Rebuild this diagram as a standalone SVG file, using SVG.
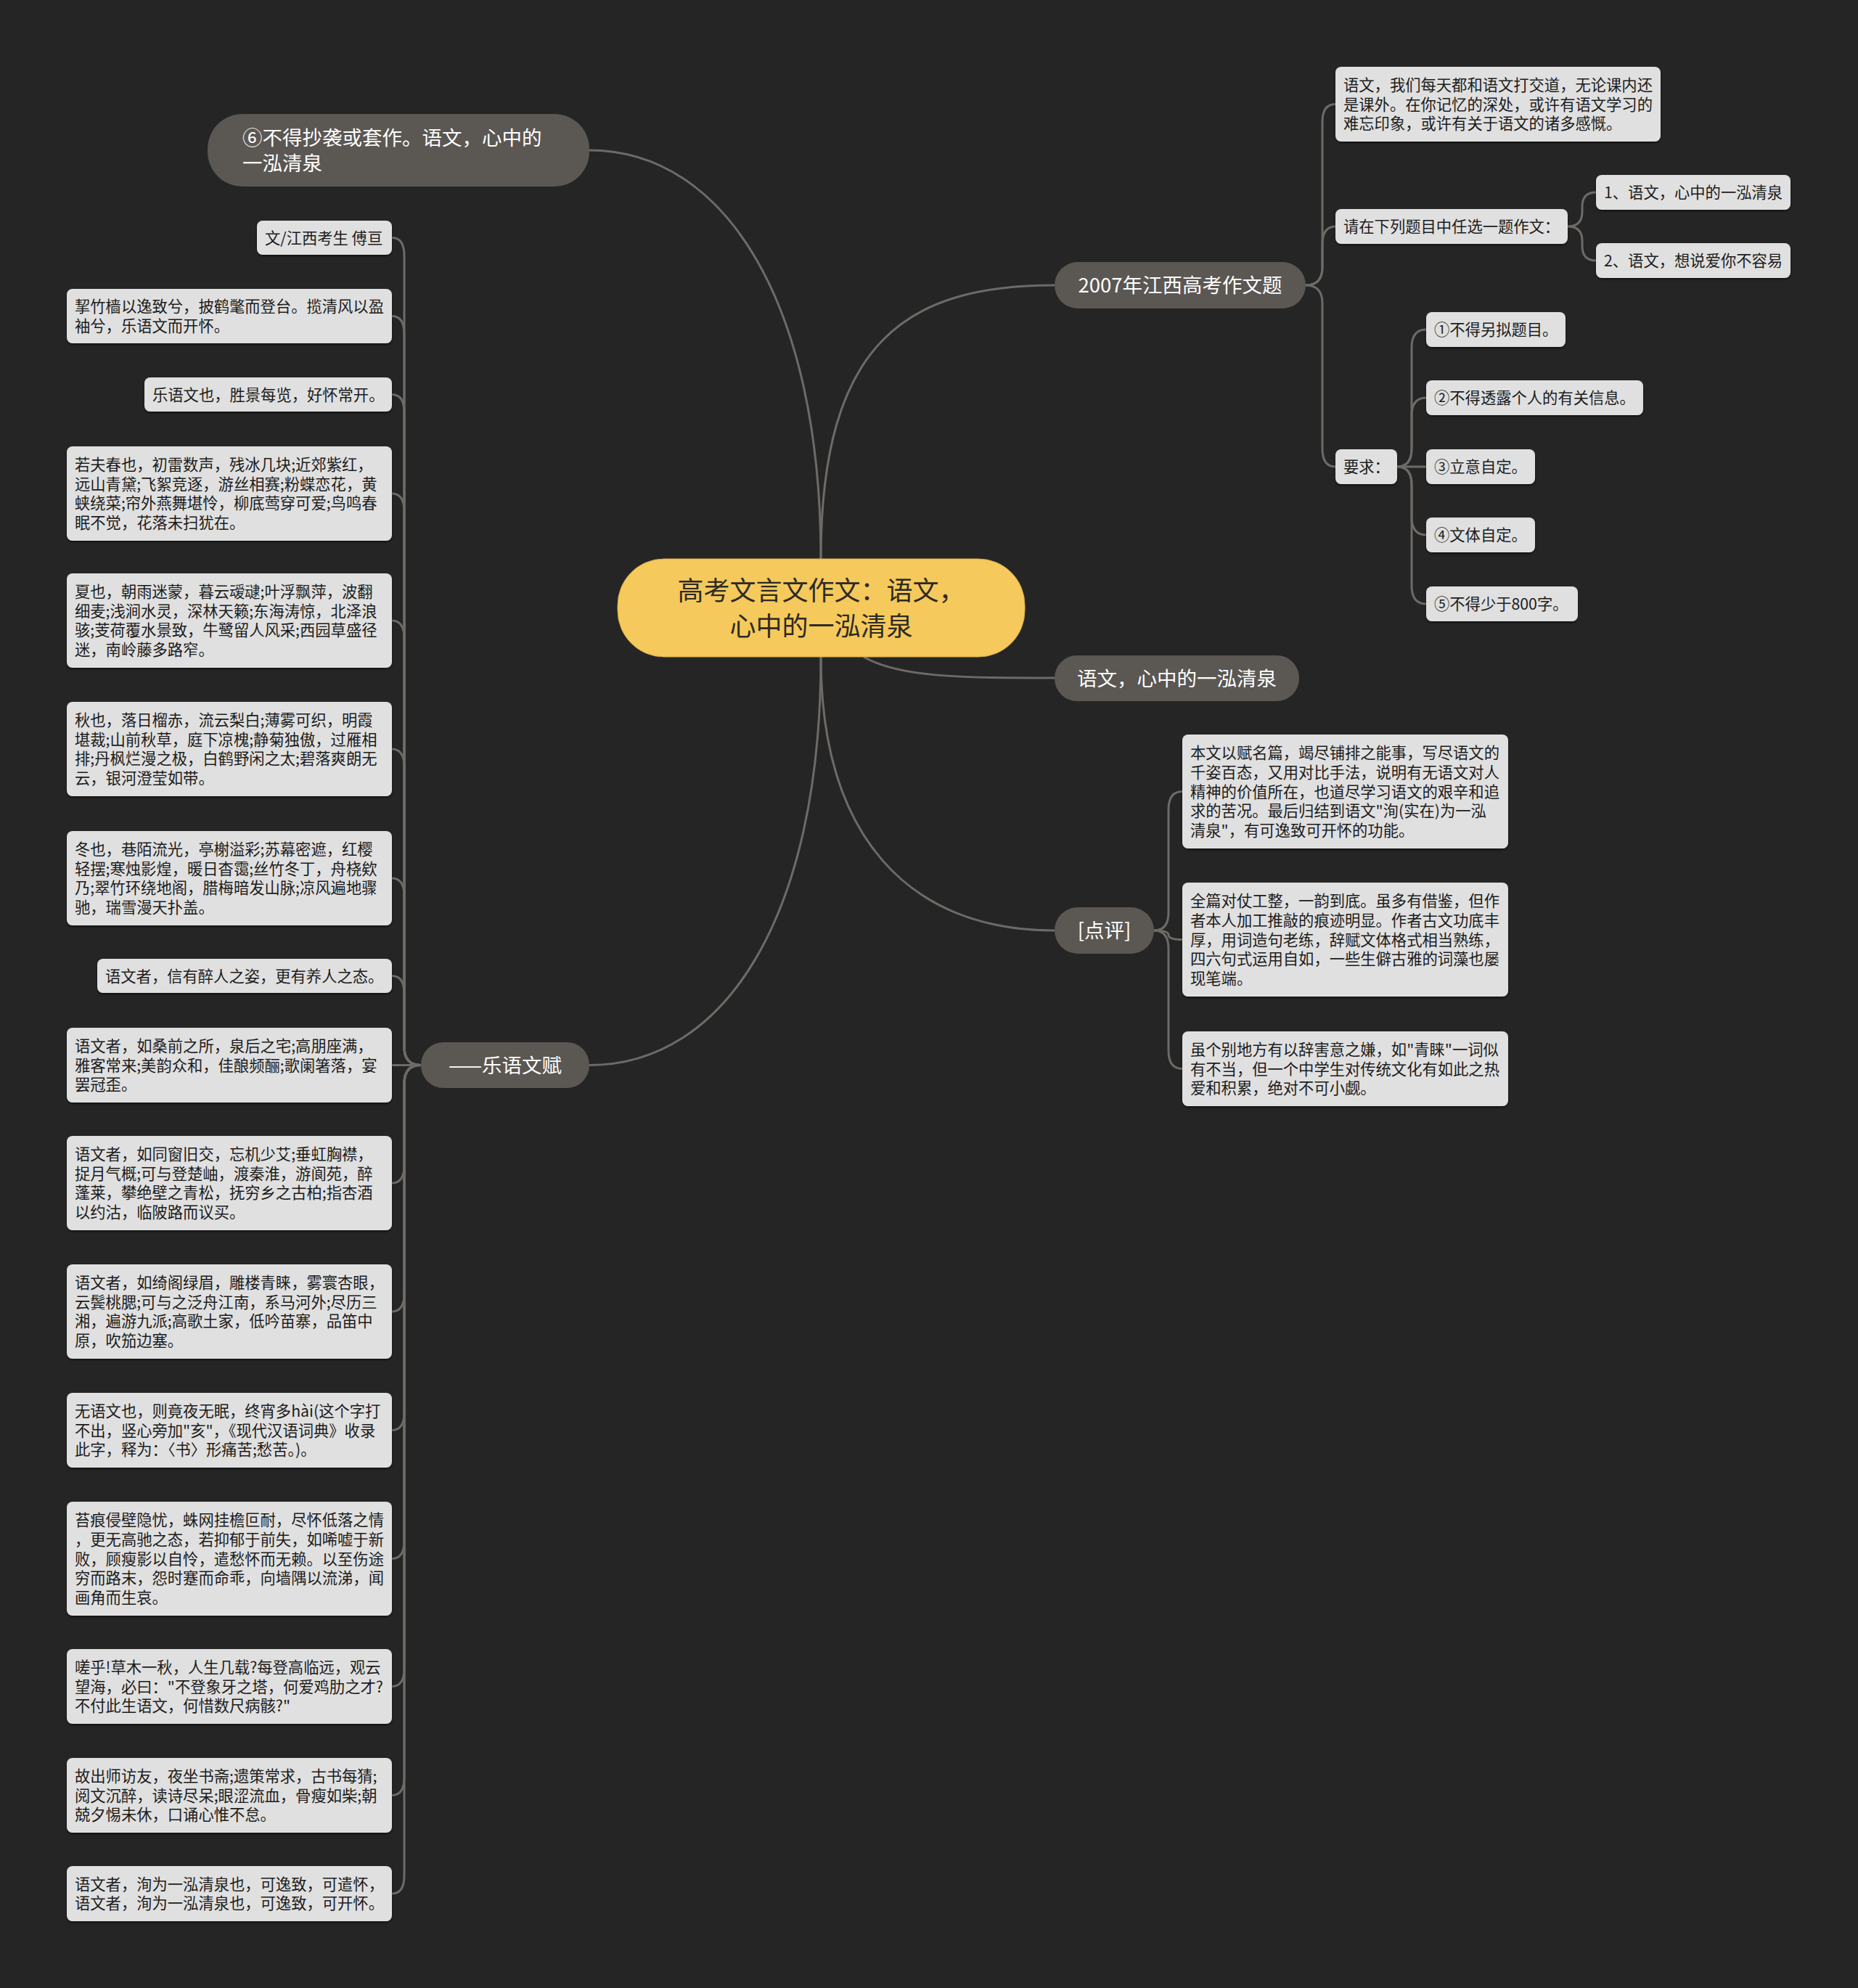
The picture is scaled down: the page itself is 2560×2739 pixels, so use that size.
<svg xmlns="http://www.w3.org/2000/svg" width="2560" height="2739" viewBox="0 0 2560 2739">
<defs>
<style>
text{font-family:"Noto Sans CJK SC","Noto Sans",sans-serif}
.leaf rect{fill:#e0e0e0;filter:url(#sh)}
.leaf text{font-size:21.3px;fill:#1c1c1c}
.branch rect{fill:#5b5753}
.branch text{font-size:27.5px;fill:#ffffff}
.mid{text-anchor:middle}
.conn path{fill:none;stroke:#6e6a66;stroke-width:3}
.root rect{fill:#f5c95c;stroke:#d8ab45;stroke-width:1}
.root text{font-size:36px;fill:#2e2a22;text-anchor:middle}
</style>
<filter id="sh" x="-5%" y="-10%" width="110%" height="130%">
<feDropShadow dx="0" dy="2" stdDeviation="1.5" flood-color="#000" flood-opacity="0.5"/>
</filter>
</defs>
<rect width="2560" height="2739" fill="#252525"/>

<g id="connectors" class="conn">
<path d="M1131,770 C1131,420 1000,207 812,207"/>
<path d="M1131,770 C1131,470 1250,393 1453,393"/>
<path d="M1131,905 C1131,1260 1000,1467.5 812,1467.5"/>
<path d="M1131,905 C1131,1150 1250,1282 1453,1282"/>
<path d="M1190,905 C1240,934 1330,934 1453,934"/>

<path d="M1799,393 Q1822,393 1822,368 L1822,168 Q1822,143.5 1840,143.5"/>
<path d="M1799,393 Q1822,393 1822,368 L1822,337 Q1822,312 1840,312"/>
<path d="M1799,393 Q1822,393 1822,418 L1822,618 Q1822,643 1840,643"/>

<path d="M2160,312 Q2180,312 2180,292 L2180,285 Q2180,265 2199,265"/>
<path d="M2160,312 Q2180,312 2180,332 L2180,339 Q2180,359 2199,359"/>

<path d="M1925,643 Q1945,643 1945,618 L1945,479 Q1945,454 1965,454"/>
<path d="M1925,643 Q1945,643 1945,618 L1945,573 Q1945,548 1965,548"/>
<path d="M1925,643 L1965,643"/>
<path d="M1925,643 Q1945,643 1945,668 L1945,712 Q1945,737 1965,737"/>
<path d="M1925,643 Q1945,643 1945,668 L1945,807 Q1945,832 1965,832"/>

<path d="M1590,1282 Q1610,1282 1610,1257 L1610,1115.5 Q1610,1090.5 1629,1090.5"/>
<path d="M1590,1282 Q1610,1282 1610,1288 Q1610,1294.5 1629,1294.5"/>
<path d="M1590,1282 Q1610,1282 1610,1307 L1610,1447.5 Q1610,1472.5 1629,1472.5"/>

<path d="M580,1467.5 Q557,1467.5 557,1442.5 L557,352.5 Q557,327.5 540,327.5"/>
<path d="M580,1467.5 Q557,1467.5 557,1442.5 L557,460.5 Q557,435.5 540,435.5"/>
<path d="M580,1467.5 Q557,1467.5 557,1442.5 L557,568.5 Q557,543.5 540,543.5"/>
<path d="M580,1467.5 Q557,1467.5 557,1442.5 L557,705 Q557,680 540,680"/>
<path d="M580,1467.5 Q557,1467.5 557,1442.5 L557,880 Q557,855 540,855"/>
<path d="M580,1467.5 Q557,1467.5 557,1442.5 L557,1057 Q557,1032 540,1032"/>
<path d="M580,1467.5 Q557,1467.5 557,1442.5 L557,1235 Q557,1210 540,1210"/>
<path d="M580,1467.5 Q557,1467.5 557,1442.5 L557,1369.5 Q557,1344.5 540,1344.5"/>
<path d="M580,1467.5 L540,1467.5"/>
<path d="M580,1467.5 Q557,1467.5 557,1492.5 L557,1605 Q557,1630 540,1630"/>
<path d="M580,1467.5 Q557,1467.5 557,1492.5 L557,1782 Q557,1807 540,1807"/>
<path d="M580,1467.5 Q557,1467.5 557,1492.5 L557,1945.5 Q557,1970.5 540,1970.5"/>
<path d="M580,1467.5 Q557,1467.5 557,1492.5 L557,2122.5 Q557,2147.5 540,2147.5"/>
<path d="M580,1467.5 Q557,1467.5 557,1492.5 L557,2298.5 Q557,2323.5 540,2323.5"/>
<path d="M580,1467.5 Q557,1467.5 557,1492.5 L557,2448.5 Q557,2473.5 540,2473.5"/>
<path d="M580,1467.5 Q557,1467.5 557,1492.5 L557,2584 Q557,2609 540,2609"/>
</g>

<g id="root" class="root">
<rect x="851" y="770" width="561" height="135" rx="64"/>
<text x="1131.5" y="826.7">高考文言文作文：语文，</text>
<text x="1131.5" y="875.7">心中的一泓清泉</text>
</g>

<g id="b-2007" class="branch">
<rect x="1453" y="361" width="346" height="64" rx="32"/>
<text class="mid" x="1626" y="403">2007年江西高考作文题</text>
</g>
<g id="b-yuwen" class="branch">
<rect x="1453" y="903" width="337" height="63" rx="31"/>
<text class="mid" x="1621.5" y="944.5">语文，心中的一泓清泉</text>
</g>
<g id="b-dianping" class="branch">
<rect x="1453" y="1250" width="137" height="64" rx="32"/>
<text class="mid" x="1521.5" y="1292">[点评]</text>
</g>
<g id="b-six" class="branch">
<rect x="286" y="157" width="526" height="100" rx="48"/>
<text x="334" y="200">⑥不得抄袭或套作。语文，心中的</text>
<text x="334" y="235">一泓清泉</text>
</g>
<g id="b-fu" class="branch">
<rect x="580" y="1436" width="232" height="63" rx="31"/>
<text class="mid" x="696" y="1477.5">——乐语文赋</text>
</g>

<g id="r-intro" class="leaf">
<rect x="1840" y="92" width="448" height="103" rx="8"/>
<text x="1851" y="124.8">语文，我们每天都和语文打交道，无论课内还</text>
<text x="1851" y="151.5">是课外。在你记忆的深处，或许有语文学习的</text>
<text x="1851" y="178.2">难忘印象，或许有关于语文的诸多感慨。</text>
</g>
<g id="r-choose" class="leaf">
<rect x="1840" y="288" width="320" height="48" rx="8"/>
<text x="1851" y="320">请在下列题目中任选一题作文：</text>
</g>
<g id="r-t1" class="leaf">
<rect x="2199" y="241" width="268" height="48" rx="8"/>
<text x="2210" y="273">1、语文，心中的一泓清泉</text>
</g>
<g id="r-t2" class="leaf">
<rect x="2199" y="335" width="268" height="48" rx="8"/>
<text x="2210" y="367">2、语文，想说爱你不容易</text>
</g>
<g id="r-req" class="leaf">
<rect x="1840" y="619" width="85" height="48" rx="8"/>
<text x="1851" y="651">要求：</text>
</g>
<g id="r-q1" class="leaf">
<rect x="1965" y="430" width="192" height="48" rx="8"/>
<text x="1976" y="462">①不得另拟题目。</text>
</g>
<g id="r-q2" class="leaf">
<rect x="1965" y="524" width="299" height="48" rx="8"/>
<text x="1976" y="556">②不得透露个人的有关信息。</text>
</g>
<g id="r-q3" class="leaf">
<rect x="1965" y="619" width="150" height="48" rx="8"/>
<text x="1976" y="651">③立意自定。</text>
</g>
<g id="r-q4" class="leaf">
<rect x="1965" y="713" width="150" height="48" rx="8"/>
<text x="1976" y="745">④文体自定。</text>
</g>
<g id="r-q5" class="leaf">
<rect x="1965" y="808" width="209" height="48" rx="8"/>
<text x="1976" y="840">⑤不得少于800字。</text>
</g>

<g id="c1" class="leaf">
<rect x="1629" y="1012" width="449" height="157" rx="8"/>
<text x="1640" y="1045.1">本文以赋名篇，竭尽铺排之能事，写尽语文的</text>
<text x="1640" y="1071.8">千姿百态，又用对比手法，说明有无语文对人</text>
<text x="1640" y="1098.5">精神的价值所在，也道尽学习语文的艰辛和追</text>
<text x="1640" y="1125.2">求的苦况。最后归结到语文"洵(实在)为一泓</text>
<text x="1640" y="1151.9">清泉"，有可逸致可开怀的功能。</text>
</g>
<g id="c2" class="leaf">
<rect x="1629" y="1216" width="449" height="157" rx="8"/>
<text x="1640" y="1249.1">全篇对仗工整，一韵到底。虽多有借鉴，但作</text>
<text x="1640" y="1275.8">者本人加工推敲的痕迹明显。作者古文功底丰</text>
<text x="1640" y="1302.5">厚，用词造句老练，辞赋文体格式相当熟练，</text>
<text x="1640" y="1329.2">四六句式运用自如，一些生僻古雅的词藻也屡</text>
<text x="1640" y="1355.9">现笔端。</text>
</g>
<g id="c3" class="leaf">
<rect x="1629" y="1421" width="449" height="103" rx="8"/>
<text x="1640" y="1453.8">虽个别地方有以辞害意之嫌，如"青睐"一词似</text>
<text x="1640" y="1480.5">有不当，但一个中学生对传统文化有如此之热</text>
<text x="1640" y="1507.2">爱和积累，绝对不可小觑。</text>
</g>

<g id="l1" class="leaf">
<rect x="354" y="304" width="186" height="47" rx="8"/>
<text x="365" y="335.5">文/江西考生 傅亘</text>
</g>
<g id="l2" class="leaf">
<rect x="92" y="398" width="448" height="75" rx="8"/>
<text x="103" y="430.2">挈竹樯以逸致兮，披鹤氅而登台。揽清风以盈</text>
<text x="103" y="456.9">袖兮，乐语文而开怀。</text>
</g>
<g id="l3" class="leaf">
<rect x="199" y="520" width="341" height="47" rx="8"/>
<text x="210" y="551.5">乐语文也，胜景每览，好怀常开。</text>
</g>
<g id="l4" class="leaf">
<rect x="92" y="615" width="448" height="130" rx="8"/>
<text x="103" y="648">若夫春也，初雷数声，残冰几块;近郊紫红，</text>
<text x="103" y="674.7">远山青黛;飞絮竞逐，游丝相赛;粉蝶恋花，黄</text>
<text x="103" y="701.4">蛱绕菜;帘外燕舞堪怜，柳底莺穿可爱;鸟鸣春</text>
<text x="103" y="728.1">眠不觉，花落未扫犹在。</text>
</g>
<g id="l5" class="leaf">
<rect x="92" y="790" width="448" height="130" rx="8"/>
<text x="103" y="823">夏也，朝雨迷蒙，暮云叆叇;叶浮飘萍，波翻</text>
<text x="103" y="849.7">细麦;浅涧水灵，深林天籁;东海涛惊，北泽浪</text>
<text x="103" y="876.4">骇;芰荷覆水景致，牛鹭留人风采;西园草盛径</text>
<text x="103" y="903.1">迷，南岭藤多路窄。</text>
</g>
<g id="l6" class="leaf">
<rect x="92" y="967" width="448" height="130" rx="8"/>
<text x="103" y="1000">秋也，落日榴赤，流云梨白;薄雾可织，明霞</text>
<text x="103" y="1026.7">堪裁;山前秋草，庭下凉槐;静菊独傲，过雁相</text>
<text x="103" y="1053.4">排;丹枫烂漫之极，白鹤野闲之太;碧落爽朗无</text>
<text x="103" y="1080.1">云，银河澄莹如带。</text>
</g>
<g id="l7" class="leaf">
<rect x="92" y="1145" width="448" height="130" rx="8"/>
<text x="103" y="1178">冬也，巷陌流光，亭榭溢彩;苏幕密遮，红樱</text>
<text x="103" y="1204.7">轻摆;寒烛影煌，暖日杳霭;丝竹冬丁，舟桡欸</text>
<text x="103" y="1231.4">乃;翠竹环绕地阁，腊梅暗发山脉;凉风遍地骤</text>
<text x="103" y="1258.1">驰，瑞雪漫天扑盖。</text>
</g>
<g id="l8" class="leaf">
<rect x="134" y="1321" width="406" height="47" rx="8"/>
<text x="145" y="1352.5">语文者，信有醉人之姿，更有养人之态。</text>
</g>
<g id="l9" class="leaf">
<rect x="92" y="1416" width="448" height="103" rx="8"/>
<text x="103" y="1448.8">语文者，如桑前之所，泉后之宅;高朋座满，</text>
<text x="103" y="1475.5">雅客常来;美韵众和，佳酿频酾;歌阑箸落，宴</text>
<text x="103" y="1502.2">罢冠歪。</text>
</g>
<g id="l10" class="leaf">
<rect x="92" y="1565" width="448" height="130" rx="8"/>
<text x="103" y="1598">语文者，如同窗旧交，忘机少艾;垂虹胸襟，</text>
<text x="103" y="1624.7">捉月气概;可与登楚岫，渡秦淮，游阆苑，醉</text>
<text x="103" y="1651.4">蓬莱，攀绝壁之青松，抚穷乡之古柏;指杏酒</text>
<text x="103" y="1678.1">以约沽，临陂路而议买。</text>
</g>
<g id="l11" class="leaf">
<rect x="92" y="1742" width="448" height="130" rx="8"/>
<text x="103" y="1775">语文者，如绮阁绿眉，雕楼青睐，雾寰杏眼，</text>
<text x="103" y="1801.7">云鬓桃腮;可与之泛舟江南，系马河外;尽历三</text>
<text x="103" y="1828.4">湘，遍游九派;高歌土家，低吟苗寨，品笛中</text>
<text x="103" y="1855.1">原，吹笳边塞。</text>
</g>
<g id="l12" class="leaf">
<rect x="92" y="1919" width="448" height="103" rx="8"/>
<text x="103" y="1951.8">无语文也，则竟夜无眠，终宵多hài(这个字打</text>
<text x="103" y="1978.5">不出，竖心旁加"亥"，《现代汉语词典》收录</text>
<text x="103" y="2005.2">此字，释为：〈书〉形痛苦;愁苦。)。</text>
</g>
<g id="l13" class="leaf">
<rect x="92" y="2069" width="448" height="157" rx="8"/>
<text x="103" y="2102.1">苔痕侵壁隐忧，蛛网挂檐叵耐，尽怀低落之情</text>
<text x="103" y="2128.8">，更无高驰之态，若抑郁于前失，如唏嘘于新</text>
<text x="103" y="2155.5">败，顾瘦影以自怜，遣愁怀而无赖。以至伤途</text>
<text x="103" y="2182.2">穷而路末，怨时蹇而命乖，向墙隅以流涕，闻</text>
<text x="103" y="2208.9">画角而生哀。</text>
</g>
<g id="l14" class="leaf">
<rect x="92" y="2272" width="448" height="103" rx="8"/>
<text x="103" y="2304.8">嗟乎!草木一秋，人生几载?每登高临远，观云</text>
<text x="103" y="2331.5">望海，必曰："不登象牙之塔，何爱鸡肋之才?</text>
<text x="103" y="2358.2">不付此生语文，何惜数尺病骸?"</text>
</g>
<g id="l15" class="leaf">
<rect x="92" y="2422" width="448" height="103" rx="8"/>
<text x="103" y="2454.8">故出师访友，夜坐书斋;遗策常求，古书每猜;</text>
<text x="103" y="2481.5">阅文沉醉，读诗尽呆;眼涩流血，骨瘦如柴;朝</text>
<text x="103" y="2508.2">兢夕惕未休，口诵心惟不怠。</text>
</g>
<g id="l16" class="leaf">
<rect x="92" y="2571" width="448" height="76" rx="8"/>
<text x="103" y="2603.7">语文者，洵为一泓清泉也，可逸致，可遣怀，</text>
<text x="103" y="2630.4">语文者，洵为一泓清泉也，可逸致，可开怀。</text>
</g>
</svg>
